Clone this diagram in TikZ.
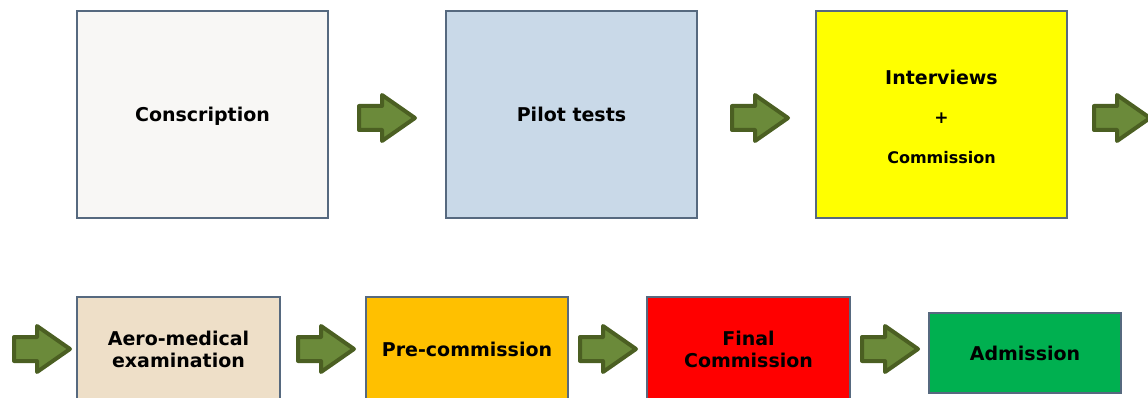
\documentclass[tikz,border=0pt]{standalone}
\usepackage{fontspec}
\setmainfont{DejaVu Sans}
\definecolor{boxedge}{HTML}{56697F}
\definecolor{cConscr}{HTML}{F8F7F5}
\definecolor{cPilot}{HTML}{C9D9E8}
\definecolor{cInter}{HTML}{FFFF00}
\definecolor{cAero}{HTML}{EEDFC8}
\definecolor{cPre}{HTML}{FFC000}
\definecolor{cFinal}{HTML}{FF0000}
\definecolor{cAdm}{HTML}{00B050}
\definecolor{arrowdark}{HTML}{4B5F22}
\definecolor{arrowfill}{HTML}{6B8A3A}
\tikzset{
  stagebox/.style={draw=boxedge, line width=1.3pt, inner sep=0pt, align=center,
    text depth=0pt, font=\bfseries\fontsize{19}{22}\selectfont},
  blockarrow/.pic={
    \draw[draw=arrowdark, fill=arrowfill, line width=4pt, line join=round]
      (2,-12) -- (25,-12) -- (25,-23) -- (58,0) -- (25,23) -- (25,12) -- (2,12) -- cycle;
  }
}
\begin{document}
\begin{tikzpicture}[x=1pt,y=-1pt]
\useasboundingbox (0,0) rectangle (1148,398);
\clip (0,0) rectangle (1148,398);
% top row
\node[stagebox, fill=cConscr, minimum width=251pt, minimum height=207pt] (conscr) at (202.5,114.5) {Conscription};
\node[stagebox, fill=cPilot, minimum width=251pt, minimum height=207pt] (pilot) at (571.5,114.5) {Pilot tests};
\node[stagebox, fill=cInter, minimum width=251pt, minimum height=207pt] (inter) at (941.5,114.5) {};
\node[font=\bfseries\fontsize{19}{22}\selectfont, text depth=0pt] (interA) at (941.5,77) {Interviews};
\node[font=\bfseries\fontsize{17}{20}\selectfont, text depth=0pt] (interB) at (941.5,118) {+};
\node[font=\bfseries\fontsize{16}{19}\selectfont, text depth=0pt] (interC) at (941.5,157) {Commission};
% bottom row
\node[stagebox, fill=cAero, minimum width=203pt, minimum height=104pt] (aero) at (178.5,349) {Aero-medical\\examination};
\node[stagebox, fill=cPre, minimum width=202pt, minimum height=104pt] (pre) at (467,349) {Pre-commission};
\node[stagebox, fill=cFinal, minimum width=203pt, minimum height=104pt] (final) at (748.5,349) {Final\\Commission};
\node[stagebox, fill=cAdm, minimum width=192pt, minimum height=80pt] (adm) at (1025,353) {Admission};
% arrows
\pic at (357,118) {blockarrow};
\pic at (730,118) {blockarrow};
\pic at (1092,118) {blockarrow};
\pic at (12,349) {blockarrow};
\pic at (296,349) {blockarrow};
\pic at (578,349) {blockarrow};
\pic at (860,349) {blockarrow};
\end{tikzpicture}
\end{document}
